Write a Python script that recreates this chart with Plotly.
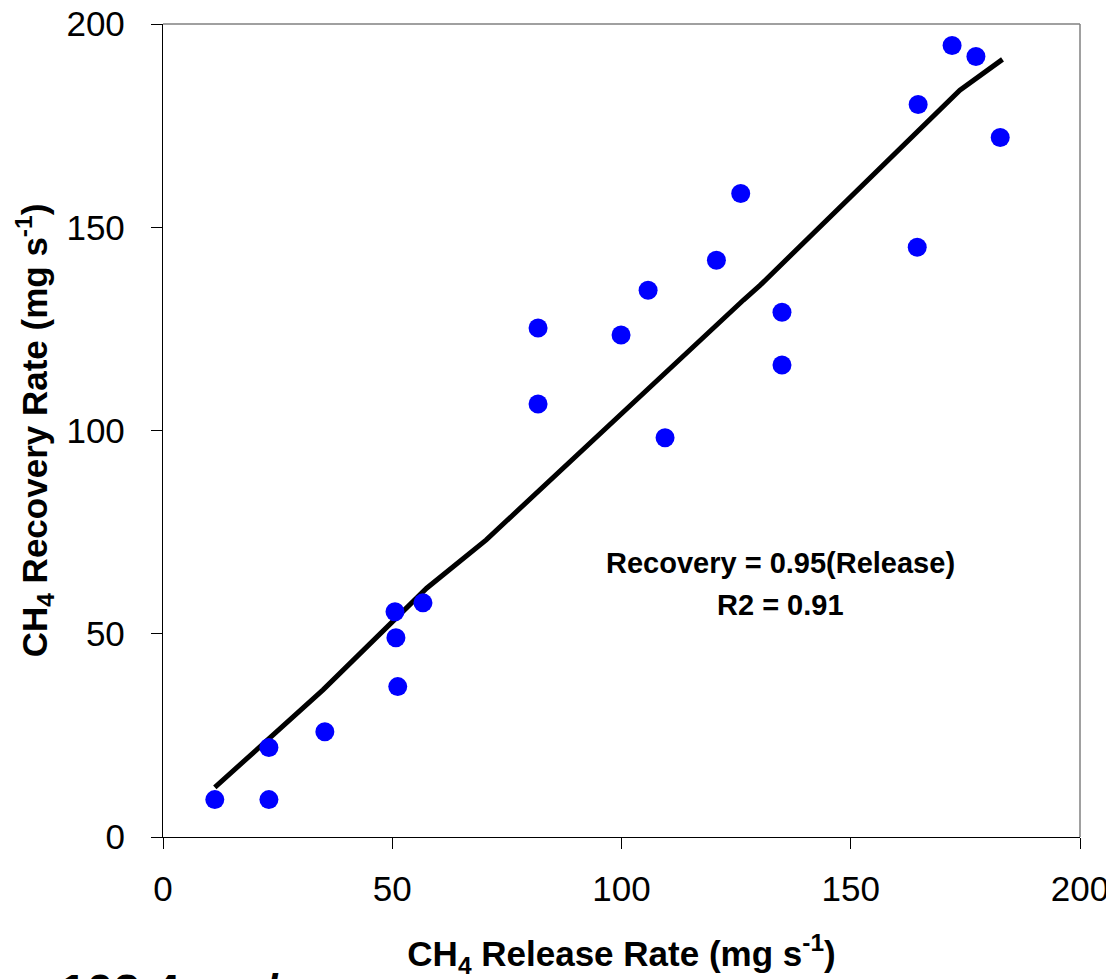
import plotly.graph_objects as go

# Measured data (CH4 release vs recovery, mg s-1)
release = [11.3, 23.1, 23.1, 35.3, 50.6, 50.8, 51.2, 56.7, 81.8, 81.8, 99.9,
           105.8, 109.5, 120.7, 126.0, 135.0, 135.0, 164.5, 164.7, 172.1, 177.3, 182.6]
recovery = [9.2, 9.2, 22.0, 25.9, 55.4, 49.0, 37.0, 57.6, 125.2, 106.5, 123.5,
            134.5, 98.2, 141.9, 158.3, 129.1, 116.1, 145.1, 180.2, 194.7, 192.0, 172.1]

# Fit line as drawn
fit_x = [11.3, 34.9, 57.5, 70.5, 126.6, 130.2, 173.8, 183.1]
fit_y = [12.2, 36.2, 61.2, 73.1, 132.1, 135.7, 183.7, 191.3]

tick_vals = [0, 50, 100, 150, 200]
tick_text = ["0", "50", "100", "150", "200"]

FONT = "Liberation Sans, Arial, sans-serif"

fig = go.Figure()
fig.add_trace(go.Scatter(x=fit_x, y=fit_y, mode="lines",
                         line=dict(color="black", width=5), showlegend=False))
fig.add_trace(go.Scatter(x=release, y=recovery, mode="markers",
                         marker=dict(color="#0000FF", size=19, line=dict(width=0)),
                         showlegend=False))

axis_common = dict(
    range=[0, 200], tickvals=tick_vals, ticktext=tick_text, automargin=False,
    ticklabeloverflow="allow",
    showgrid=False, zeroline=False, showline=True, linecolor="black", linewidth=1.3,
    ticks="outside", ticklen=11, tickwidth=1.3, tickcolor="black",
    tickfont=dict(family=FONT, size=35, color="black"),
)

fig.update_layout(
    width=1106, height=971,
    margin=dict(l=155, r=34, t=15.5, b=141.5),
    paper_bgcolor="white", plot_bgcolor="white",
    xaxis=dict(**axis_common, ticklabelstandoff=10,
               title=dict(text="<b>CH<sub>4</sub> Release Rate (mg s<sup>-1</sup>)</b>",
                          font=dict(family=FONT, size=35, color="black"), standoff=34)),
    yaxis=dict(**axis_common, ticklabelstandoff=19,
               title=dict(text="<b>CH<sub>4</sub> Recovery Rate (mg s<sup>-1</sup>)</b>",
                          font=dict(family=FONT, size=35, color="black"), standoff=8)),
    shapes=[
        dict(type="line", xref="paper", yref="paper", x0=0, x1=1, y0=1, y1=1,
             line=dict(color="#808080", width=1.5)),
        dict(type="line", xref="paper", yref="paper", x0=1, x1=1, y0=0, y1=1,
             line=dict(color="#808080", width=1.5)),
    ],
    annotations=[
        dict(x=134.7, y=67.4, xref="x", yref="y", showarrow=False,
             text="<b>Recovery = 0.95(Release)</b>",
             font=dict(family=FONT, size=29, color="black")),
        dict(x=134.7, y=57.1, xref="x", yref="y", showarrow=False,
             text="<b>R2 = 0.91</b>",
             font=dict(family=FONT, size=29, color="black")),
        dict(x=-0.1143, y=-0.1898, xref="paper", yref="paper", showarrow=False,
             xanchor="left", yanchor="middle",
             text="<b>102.4 mg/s</b>",
             font=dict(family=FONT, size=48, color="black")),
    ],
)

fig.write_html("out.html")
